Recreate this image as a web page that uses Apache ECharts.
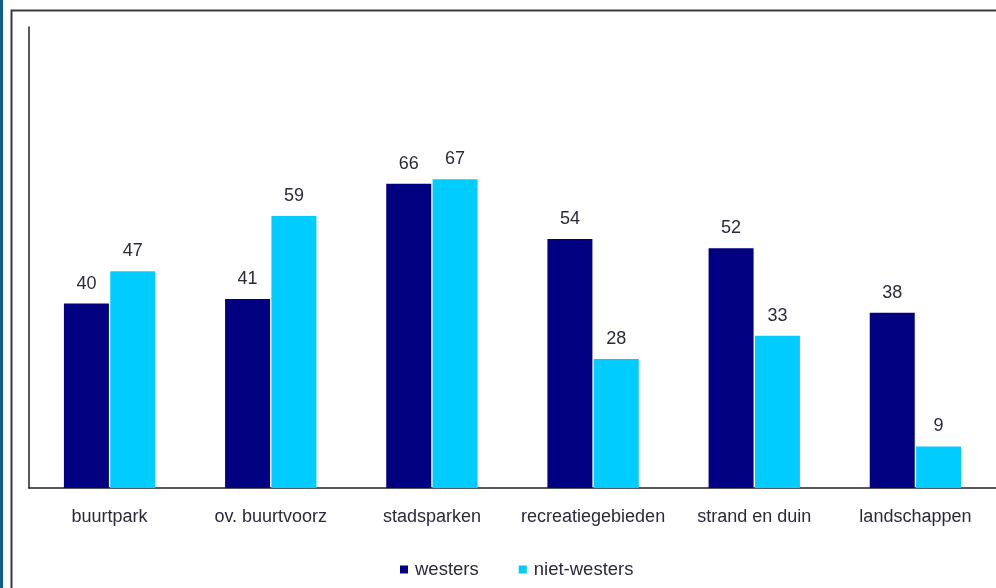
<!DOCTYPE html>
<html><head><meta charset="utf-8">
<script src="https://cdn.jsdelivr.net/npm/echarts@6/dist/echarts.min.js"></script>
<style>html,body{margin:0;padding:0;background:#fff}#c{width:996px;height:588px}</style>
</head><body><div id="c"></div>
<script>
const categories = ['buurtpark','ov. buurtvoorz','stadsparken','recreatiegebieden','strand en duin','landschappen'];
const westers = [40,41,66,54,52,38];
const nietWesters = [47,59,67,28,33,9];
const seriesNames = ['westers','niet-westers'];

const chart = echarts.init(document.getElementById('c'));
const font = 'Liberation Sans, Arial, sans-serif';
chart.setOption({
  animation:false,
  graphic:[
    {type:'rect',shape:{x:0,y:0,width:3,height:588},style:{fill:'#0d5c8c'},z:10},
    {type:'rect',shape:{x:11.5,y:10.5,width:1000,height:600},style:{fill:'none',stroke:'#3a3a3a',lineWidth:2},z:10}
  ],
  grid:{left:29,right:0,top:27,bottom:100},
  legend:{bottom:4,left:395,itemWidth:8,itemHeight:8,itemGap:40,icon:'rect',
    textStyle:{fontFamily:font,fontSize:18.5,color:'#2a2a3a',padding:[0,0,0,2]},data:seriesNames},
  xAxis:{type:'category',data:categories,axisTick:{show:false},
    axisLine:{lineStyle:{color:'#222',width:1.5}},
    axisLabel:{interval:0,fontFamily:font,fontSize:18,color:'#2a2a3a',margin:20}},
  yAxis:{type:'value',min:0,max:100,interval:20,splitLine:{show:false},axisLabel:{show:false},
    axisTick:{show:false},axisLine:{show:true,lineStyle:{color:'#222',width:1.5}}},
  series:[
    {name:seriesNames[0],type:'bar',data:westers,barWidth:45,barGap:'3%',
     itemStyle:{color:'#000080'},
     label:{show:true,position:'top',distance:11,fontFamily:font,fontSize:18,color:'#2a2a3a'}},
    {name:seriesNames[1],type:'bar',data:nietWesters,barWidth:45,
     itemStyle:{color:'#00ccff'},
     label:{show:true,position:'top',distance:11,fontFamily:font,fontSize:18,color:'#2a2a3a'}}
  ]
});
</script></body></html>
